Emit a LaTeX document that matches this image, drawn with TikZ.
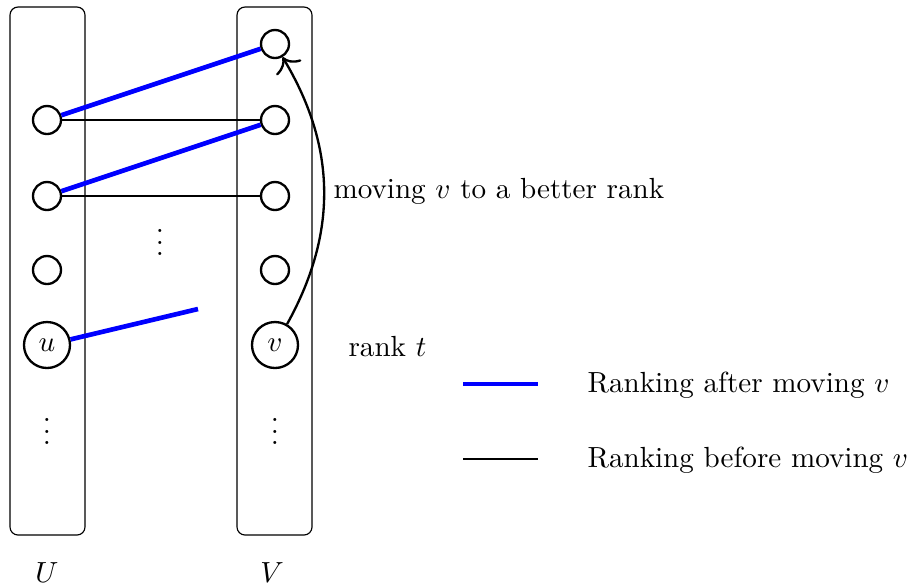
\documentclass[tikz,border=0pt]{standalone}
\usetikzlibrary{arrows.meta}
\begin{document}
\begin{tikzpicture}[x=0.3436pt,y=-0.3436pt,
  colbox/.style={draw,thin,rounded corners=8*0.3436pt},
  vtx/.style={circle,draw,thick,minimum size=28*0.3436pt,inner sep=0pt},
  bigvtx/.style={circle,draw,thick,minimum size=46*0.3436pt,inner sep=0pt},
  after/.style={draw=blue,line width=1.6pt},
  before/.style={draw=black,thick},
  dotsnode/.style={inner sep=0pt}]
\useasboundingbox (0,0) rectangle (909,586);
% column boxes
\draw[colbox] (10,7) rectangle (85,535);
\draw[colbox] (237,7) rectangle (312,535);
% U column
\node[vtx] (a1) at (47,120) {};
\node[vtx] (a2) at (47,196) {};
\node[vtx] (a3) at (47,270) {};
\node[bigvtx] (u) at (47,345) {$u$};
\node[dotsnode] (adots) at (47,423) {$\vdots$};
% V column
\node[vtx] (b0) at (275,44) {};
\node[vtx] (b1) at (275,120) {};
\node[vtx] (b2) at (275,196) {};
\node[vtx] (b3) at (275,270) {};
\node[bigvtx] (v) at (275,345) {$v$};
\node[dotsnode] (bdots) at (275,423) {$\vdots$};
\node[dotsnode] (mdots) at (160,234) {$\vdots$};
% edges
\path[before] (a1) -- (b1);
\path[before] (a2) -- (b2);
\path[after] (a1) -- (b0);
\path[after] (a2) -- (b1);
\coordinate (uend) at (198,309);
\path[after] (u) -- (uend);
% move arrow
\draw[thick,-{To[length=4.5pt,width=10pt]}] (v) to[bend right=30] (b0);
\node[anchor=base west,inner sep=0pt] (mv) at (333,198) {moving $v$ to a better rank};
\node[anchor=base west,inner sep=0pt] (rk) at (348,356) {rank $t$};
% legend
\coordinate (l1a) at (463,384);
\coordinate (l1b) at (538,384);
\coordinate (l2a) at (463,459);
\coordinate (l2b) at (538,459);
\path[after] (l1a) -- (l1b);
\path[before] (l2a) -- (l2b);
\node[anchor=base west,inner sep=0pt] (t1) at (587,392) {Ranking after moving $v$};
\node[anchor=base west,inner sep=0pt] (t2) at (587,467) {Ranking before moving $v$};
% labels
\node[anchor=base,inner sep=0pt] (U) at (47,582) {$U$};
\node[anchor=base,inner sep=0pt] (V) at (272,582) {$V$};
\end{tikzpicture}
\end{document}
